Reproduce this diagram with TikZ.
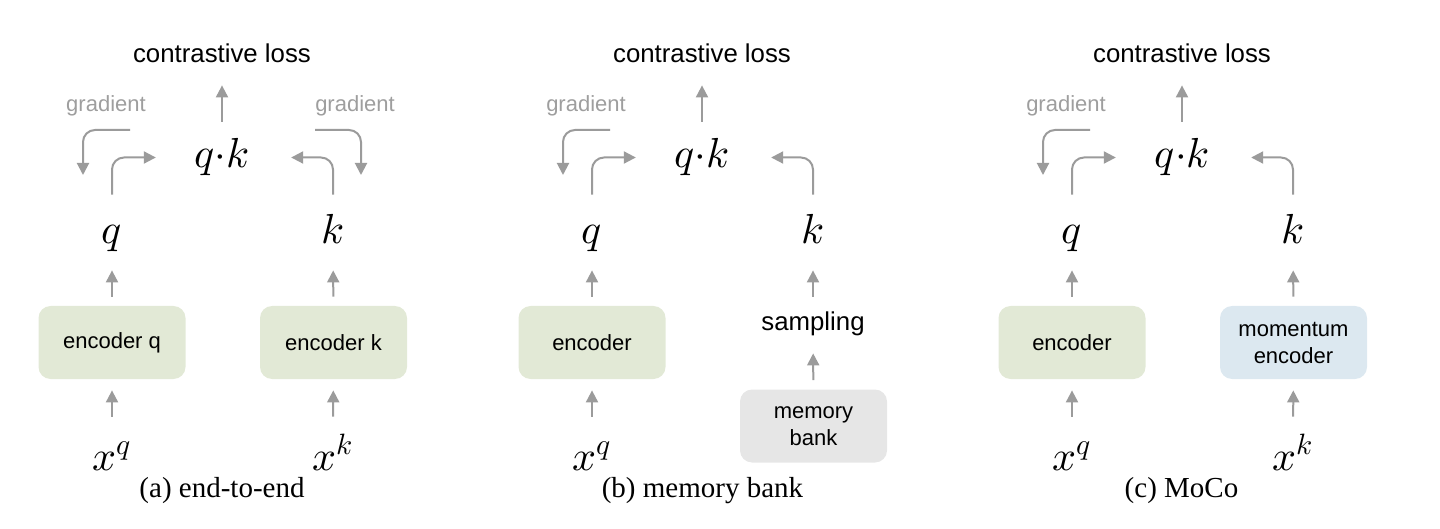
\documentclass[tikz,border=0pt]{standalone}
\usepackage{fontspec}
\usepackage{unicode-math}
\setmainfont{Liberation Serif}
\setmathfont{Latin Modern Math}
\newfontfamily\hv{Liberation Sans}
\usetikzlibrary{arrows.meta}
\definecolor{arrgray}{RGB}{155,155,155}
\definecolor{gradgray}{RGB}{158,158,158}
\definecolor{encgreen}{RGB}{226,233,214}
\definecolor{momblue}{RGB}{220,232,240}
\definecolor{memgray}{RGB}{230,230,230}
\tikzset{
  arr/.style={draw=arrgray, line width=1pt, -{Triangle[length=6pt,width=6pt]}},
  elbow/.style={arr, rounded corners=6pt},
  mvar/.style={inner sep=0pt, anchor=base, text height=15pt, text depth=4.5pt,
    font=\fontsize{21}{21}\selectfont},
  losslbl/.style={inner sep=0pt, anchor=base, text height=10pt, text depth=3pt,
    font=\hv\fontsize{12.9}{14}\selectfont},
  gradlbl/.style={inner sep=0pt, anchor=base, text=gradgray,
    font=\hv\fontsize{11}{13}\selectfont},
  blockbox/.style={rounded corners=6pt, minimum width=73.5pt, minimum height=36.5pt,
    inner sep=0pt, align=center, font=\hv\fontsize{11}{13.5}\selectfont},
  caption/.style={inner sep=0pt, anchor=base, font=\fontsize{14.5}{16}\selectfont},
}
\newcommand\toppart[1]{%
  \node[losslbl] (#1loss) at (222,63) {contrastive loss};
  \node[mvar] (#1qk) at (222,168) {$q{\cdot}k$};
  \node[mvar] (#1q) at (112,244) {$q$};
  \node[mvar] (#1k) at (333,244) {$k$};
  \node[gradlbl] (#1gl) at (106,112) {gradient};
  \coordinate (#1gls) at (130,130);
  \coordinate (#1gle) at (83,175);
  \draw[arr, shorten <=8pt, shorten >=8pt] (#1qk) -- (#1loss);
  \draw[elbow] (#1gls) -| (#1gle);
  \draw[elbow, shorten <=9.5pt, shorten >=19.3pt] (#1q.north) |- (#1qk.west);
  \draw[elbow, shorten <=9.5pt, shorten >=20.8pt] (#1k.north) |- (#1qk.east);
  \node[blockbox, fill=encgreen] (#1enc) at (112,342.5) {\encname};
  \node[mvar] (#1xq) at (112,470) {$x^q$};
  \draw[arr, shorten <=4.5pt, shorten >=8.5pt] (#1enc) -- (#1q);
  \draw[arr, shorten <=11.5pt, shorten >=5.5pt] (#1xq) -- (#1enc);
}
\newcommand\encname{encoder}
\begin{document}
\begin{tikzpicture}[x=0.5pt, y=-0.5pt]
\useasboundingbox (0,0) rectangle (1440,529);

% (a) end-to-end
\begin{scope}
  \renewcommand\encname{encoder q}
  \toppart{a}
  \node[gradlbl] (agr) at (355,112) {gradient};
  \coordinate (agrs) at (315,130);
  \coordinate (agre) at (361,175);
  \draw[elbow] (agrs) -| (agre);
  \node[blockbox, fill=encgreen] (aenck) at (333.5,342.5) {encoder k};
  \node[mvar] (axk) at (333,470) {$x^k$};
  \draw[arr, shorten <=4.5pt, shorten >=8.5pt] (aenck) -- (ak);
  \draw[arr, shorten <=11.5pt, shorten >=5.5pt] (axk) -- (aenck);
  \node[caption] (acap) at (222,497) {(a) end-to-end};
\end{scope}

% (b) memory bank
\begin{scope}[shift={(480,0)}]
  \renewcommand\encname{encoder}
  \toppart{b}
  \node[losslbl] (bsamp) at (333,330) {sampling};
  \node[blockbox, fill=memgray] (bmem) at (333.5,426) {memory\\bank};
  \draw[arr, shorten <=4.5pt, shorten >=8.5pt] (bmem) -- (bsamp);
  \draw[arr, shorten <=6.5pt, shorten >=8.5pt] (bsamp) -- (bk);
  \node[caption] (bcap) at (222.5,497) {(b) memory bank};
\end{scope}

% (c) MoCo
\begin{scope}[shift={(960,0)}]
  \renewcommand\encname{encoder}
  \toppart{c}
  \node[blockbox, fill=momblue] (cmom) at (333.5,342.5) {momentum\\encoder};
  \node[mvar] (cxk) at (333,470) {$x^k$};
  \draw[arr, shorten <=4.5pt, shorten >=8.5pt] (cmom) -- (ck);
  \draw[arr, shorten <=11.5pt, shorten >=5.5pt] (cxk) -- (cmom);
  \node[caption] (ccap) at (221.5,497) {(c) MoCo};
\end{scope}
\end{tikzpicture}
\end{document}
